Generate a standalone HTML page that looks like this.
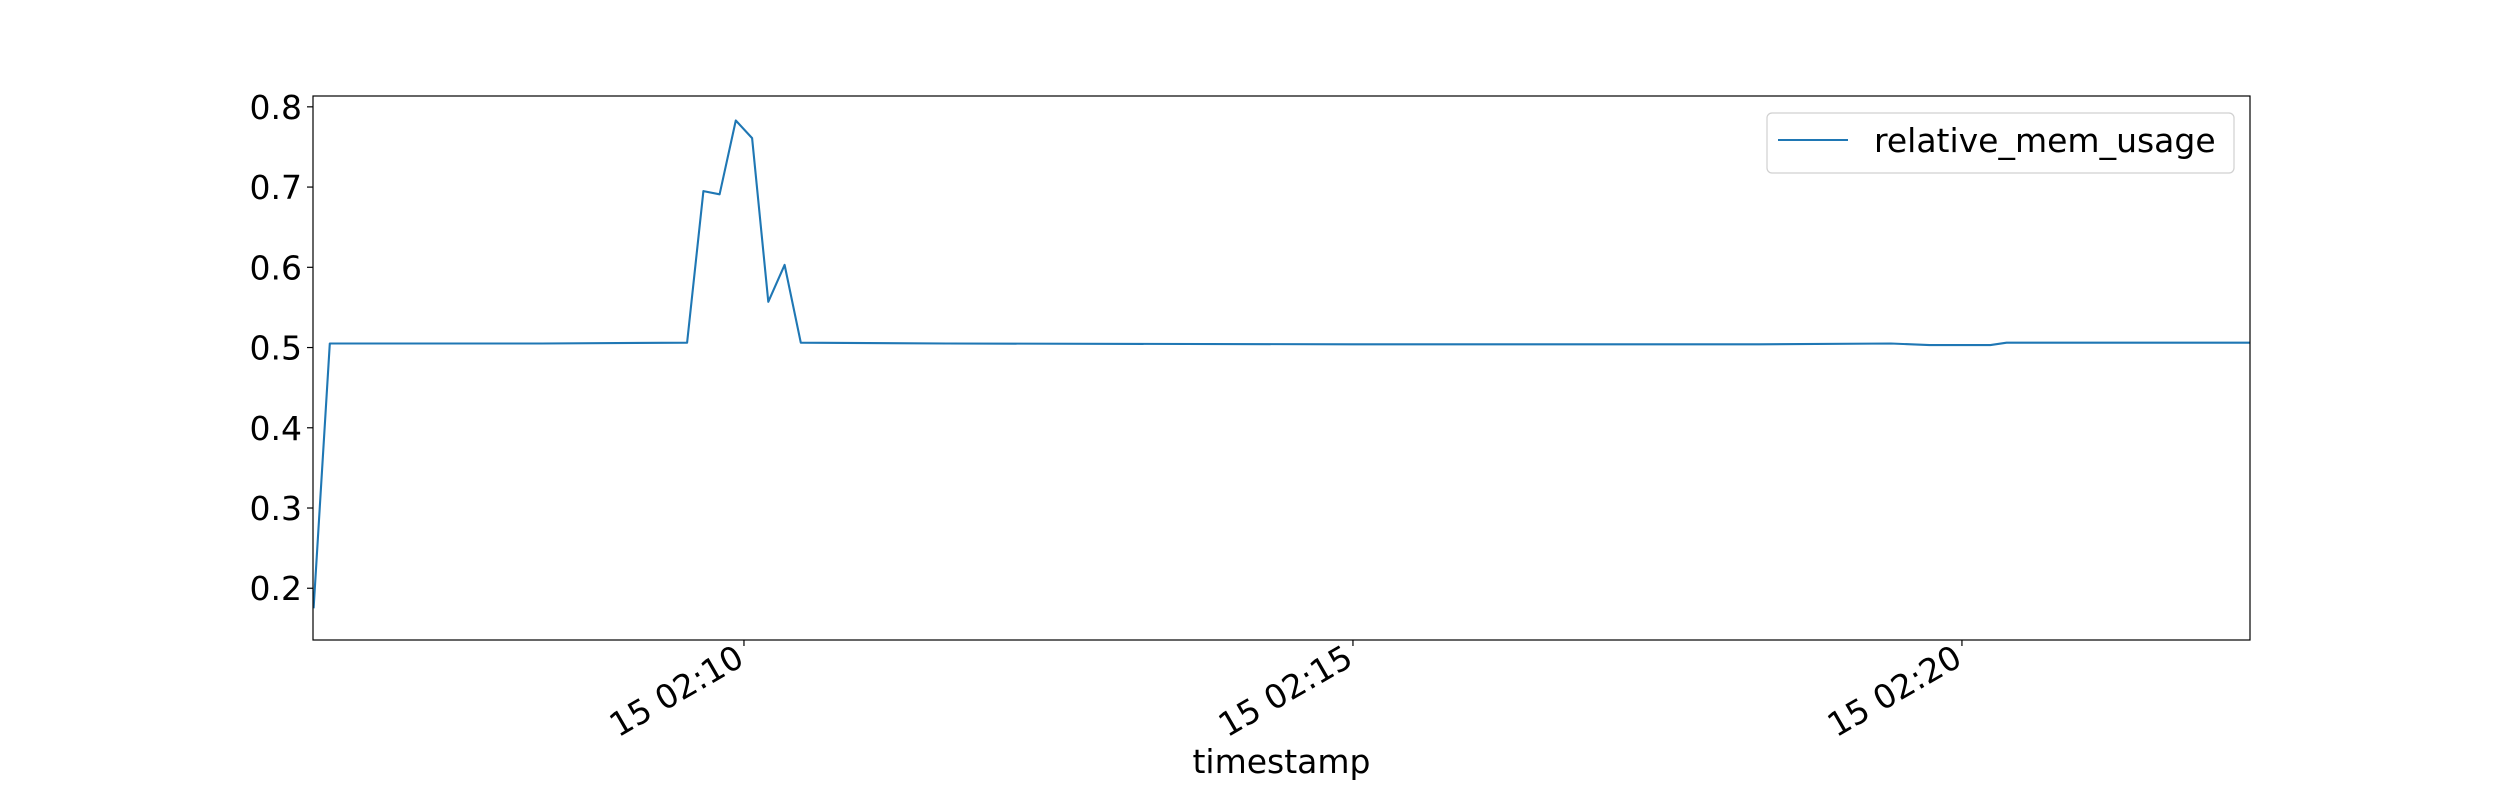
<!DOCTYPE html>
<html><head><meta charset="utf-8"><style>
html,body{margin:0;padding:0;background:#fff;}
svg{display:block;font-family:"DejaVu Sans","Liberation Sans",sans-serif;}
</style></head><body>
<svg id="chart" width="2500" height="800" viewBox="0 0 2500 800" xmlns="http://www.w3.org/2000/svg">
<rect width="2500" height="800" fill="#fff"/>
<g id="plot"></g>
</svg>
<script>
// seconds relative to 15 02:10:00
const times = [-212,-204,-100,-28,-20,-12,-4,4,12,20,28,100,300,500,565,584,614,622,742];
const memUsage = [0.175,0.505,0.505,0.506,0.695,0.691,0.783,0.761,0.557,0.603,0.506,0.505,0.504,0.504,0.505,0.503,0.503,0.506,0.506];
const yTicks = [0.2,0.3,0.4,0.5,0.6,0.7,0.8];
const xTickSecs = [0,300,600];
const xTickLabels = ["15 02:10","15 02:15","15 02:20"];

const L=313,R=2250,T=96,B=640;
const xMin=-212.3,xMax=741.9,yMin=0.1355,yMax=0.8135;
const xs=t=>L+(t-xMin)/(xMax-xMin)*(R-L);
const ys=v=>B-(v-yMin)/(yMax-yMin)*(B-T);
const NS="http://www.w3.org/2000/svg";
const g=document.getElementById('plot');
function mk(tag,attrs){const e=document.createElementNS(NS,tag);for(const k in attrs)e.setAttribute(k,attrs[k]);g.appendChild(e);return e;}

const clip=mk('clipPath',{id:'c'});
const cr=document.createElementNS(NS,'rect');cr.setAttribute('x',L);cr.setAttribute('y',T);cr.setAttribute('width',R-L);cr.setAttribute('height',B-T);clip.appendChild(cr);
const line=mk('polyline',{points:times.map((t,i)=>xs(t).toFixed(1)+','+ys(memUsage[i]).toFixed(1)).join(' '),fill:'none',stroke:'#1f77b4','stroke-width':2.1,'stroke-linejoin':'round','clip-path':'url(#c)'});



const fr=mk('rect',{x:L,y:T,width:R-L,height:B-T,fill:'none',stroke:'#000','stroke-width':1.2});



yTicks.forEach(v=>{
  const y=ys(v);
  const tk=mk('line',{x1:L-6,x2:L,y1:y,y2:y,stroke:'#000','stroke-width':1.2});
  
  
  const tx=mk('text',{x:L-11,y:y+12,'text-anchor':'end','font-size':33,fill:'#000'});
  tx.textContent=v.toFixed(1);
  
  
});
xTickSecs.forEach((s,i)=>{
  const x=xs(s);
  const tk=mk('line',{x1:x,x2:x,y1:B,y2:B+6,stroke:'#000','stroke-width':1.2});
  
  
  const tx=mk('text',{x:0,y:0,'text-anchor':'end','font-size':33,fill:'#000',transform:`translate(${x+2},${B+24}) rotate(-30)`});
  tx.textContent=xTickLabels[i];
  
  
});
const xt=mk('text',{x:(L+R)/2,y:773,'text-anchor':'middle','font-size':33,fill:'#000'});
xt.textContent='timestamp';



const lb=mk('rect',{x:1767,y:113,width:467,height:60,rx:5,fill:'#fff','fill-opacity':0.8,stroke:'#d0d0d0','stroke-width':1.2});


const ll=mk('line',{x1:1778,x2:1848,y1:140,y2:140,stroke:'#1f77b4','stroke-width':2.1});


const lt=mk('text',{x:1874,y:152,'font-size':33,fill:'#000'});
lt.textContent='relative_mem_usage';


</script>
</body></html>
